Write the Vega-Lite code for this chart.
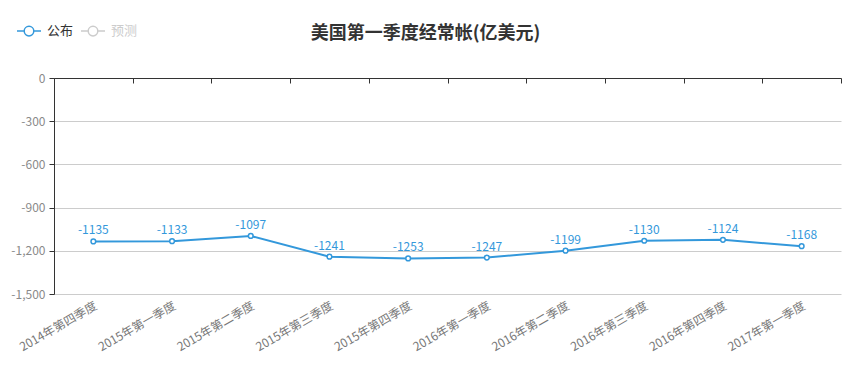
{
  "$schema": "https://vega.github.io/schema/vega-lite/v6.json",
  "autosize": {"type": "none"},
  "width": 787,
  "height": 216,
  "padding": {"left": 54, "top": 78, "right": 12, "bottom": 83},
  "background": "white",
  "config": {"view": {"stroke": null}, "font": "Noto Sans CJK SC"},
  "title": {
    "text": "美国第一季度经常帐(亿美元)",
    "fontSize": 18,
    "fontWeight": "bold",
    "color": "#333333",
    "anchor": "middle",
    "dx": -22,
    "offset": 0,
    "dy": 25,
    "font": "Noto Sans CJK SC"
  },
  "data": {
    "values": [
      {"period": "2014年第四季度", "value": -1135, "series": "公布"},
      {"period": "2015年第一季度", "value": -1133, "series": "公布"},
      {"period": "2015年第二季度", "value": -1097, "series": "公布"},
      {"period": "2015年第三季度", "value": -1241, "series": "公布"},
      {"period": "2015年第四季度", "value": -1253, "series": "公布"},
      {"period": "2016年第一季度", "value": -1247, "series": "公布"},
      {"period": "2016年第二季度", "value": -1199, "series": "公布"},
      {"period": "2016年第三季度", "value": -1130, "series": "公布"},
      {"period": "2016年第四季度", "value": -1124, "series": "公布"},
      {"period": "2017年第一季度", "value": -1168, "series": "公布"}
    ]
  },
  "layer": [
    {
      "mark": {"type": "line", "strokeWidth": 2, "point": {"filled": false, "fill": "white", "size": 22, "strokeWidth": 1.5}},
      "encoding": {
        "x": {
          "field": "period", "type": "nominal", "sort": null,
          "scale": {"paddingInner": 0, "paddingOuter": 0},
          "axis": {
            "orient": "bottom", "offset": -216, "labels": false, "title": null,
            "domainColor": "#333333", "tickColor": "#333333", "tickSize": 5,
            "tickBand": "extent", "grid": false
          }
        },
        "y": {
          "field": "value", "type": "quantitative",
          "scale": {"domain": [-1500, 0], "nice": false, "zero": false},
          "axis": {
            "title": null, "values": [0, -300, -600, -900, -1200, -1500],
            "labelExpr": "replace(format(datum.value, ',d'), '\u2212', '-')",
            "labelColor": "#8a8a8a", "labelFontSize": 12, "labelPadding": 4,
            "domainColor": "#333333", "tickColor": "#333333", "tickSize": 5,
            "grid": true, "gridColor": "#cccccc", "labelFont": "Noto Sans CJK SC"
          }
        },
        "color": {
          "field": "series", "type": "nominal",
          "scale": {"domain": ["公布", "预测"], "range": ["#3398db", "#cccccc"]},
          "legend": {
            "orient": "none", "legendX": -38, "legendY": -60, "direction": "horizontal",
            "title": null,
            "symbolType": "M-1,0H-0.4M0.4,0H1M0.4,0A0.4,0.4 0 1,1 -0.4,0A0.4,0.4 0 1,1 0.4,0",
            "symbolSize": 576, "symbolFillColor": "white", "symbolStrokeWidth": 1.5,
            "labelFontSize": 13, "labelFont": "Noto Sans CJK SC", "columnPadding": 4, "labelOffset": 5,
            "encode": {"labels": {"update": {"fill": {"signal": "datum.label == '预测' ? '#cccccc' : '#333333'"}}}}
          }
        }
      }
    },
    {
      "mark": {"type": "text", "dy": -11, "color": "#3398db", "fontSize": 12, "font": "Noto Sans CJK SC"},
      "encoding": {
        "x": {
          "field": "period", "type": "nominal", "sort": null,
          "axis": {
            "orient": "bottom", "title": null, "domain": false, "ticks": false,
            "labelAngle": -30, "labelAlign": "right", "labelBaseline": "top",
            "labelColor": "#777777", "labelFontSize": 12, "labelPadding": 6,
            "labelFont": "Noto Sans CJK SC", "grid": false
          }
        },
        "y": {"field": "value", "type": "quantitative", "axis": null},
        "text": {"field": "value", "type": "nominal"}
      }
    }
  ],
  "resolve": {"axis": {"x": "independent", "y": "independent"}}
}
